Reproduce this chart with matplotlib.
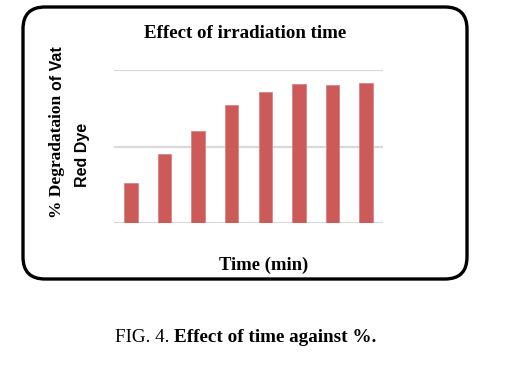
import matplotlib
matplotlib.use("Agg")
from matplotlib import pyplot as plt
from matplotlib.patches import FancyBboxPatch

# data (no tick labels shown, top gridline taken as 100)
times = ["t1", "t2", "t3", "t4", "t5", "t6", "t7", "t8"]
degradation = [26.1, 45.2, 60.1, 77.4, 85.7, 91.0, 90.4, 91.7]
grid_levels = [0, 50, 100]

serif = "Liberation Serif"
sans = "Liberation Sans"

fig = plt.figure(figsize=(5.11, 3.68), dpi=100)
ax = fig.add_axes([114 / 511, 1 - 223 / 368, (383 - 114) / 511, (223 - 70) / 368])

ax.bar(range(len(times)), degradation, width=0.4, color="#CB5A58",
       edgecolor="#D98583", linewidth=0.6, zorder=3)
ax.set_xlim(-0.5, len(times) - 0.5)
ax.set_ylim(0, 100)
for g in grid_levels:
    ax.axhline(g, color="#D9D9D9", linewidth=1.6, zorder=1)
ax.set_xticks([])
ax.set_yticks([])
for s in ax.spines.values():
    s.set_visible(False)

# titles
fig.text(245 / 511, 1 - 34 / 368, "Effect of irradiation time", family=serif,
         weight="bold", fontsize=13.6, ha="center", va="center")
fig.text(264 / 511, 1 - 265 / 368, "Time (min)", family=serif,
         weight="bold", fontsize=13.4, ha="center", va="center")

# y label: mixed fonts like the original
t1 = fig.text(57 / 511, 1 - 218 / 368, "% Degradataion ", family=serif,
              weight="bold", fontsize=12.5, rotation=90, ha="center", va="bottom")
fig.canvas.draw()
bb = t1.get_window_extent()
fig.text(57 / 511, bb.y1 / fig.bbox.height, "of Vat", family=sans,
         weight="bold", fontsize=11.5, rotation=90, ha="center", va="bottom")
fig.text(82 / 511, 1 - 155 / 368, "Red Dye", family=sans,
         weight="bold", fontsize=11.5, rotation=90, ha="center", va="center")

# rounded frame round the chart
box = FancyBboxPatch((0.23, 0.89), 4.44, 2.72,
                     boxstyle="round,pad=0,rounding_size=0.22",
                     transform=fig.dpi_scale_trans, facecolor="none",
                     edgecolor="black", linewidth=2.4)
fig.patches.append(box)

# caption
cap1 = fig.text(115 / 511, 1 - 337 / 368, "FIG. 4. ", family=serif,
                fontsize=13.8, ha="left", va="center")
fig.canvas.draw()
cb = cap1.get_window_extent()
fig.text(cb.x1 / fig.bbox.width, 1 - 337 / 368, "Effect of time against %.",
         family=serif, weight="bold", fontsize=13.8, ha="left", va="center")

plt.savefig("out.png", dpi=100)
